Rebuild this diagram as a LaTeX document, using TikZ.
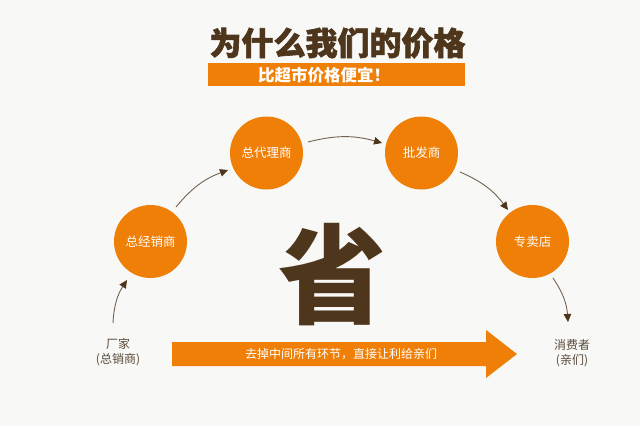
\documentclass[tikz,border=0pt]{standalone}
\usepackage{fontspec}
\setmainfont{Noto Sans CJK SC}
\newfontfamily\cjk{Noto Sans CJK SC}
\newfontfamily\cjkheavy{Noto Sans CJK SC}[FakeBold=2]
\usetikzlibrary{arrows.meta}
\definecolor{bg}{HTML}{F8F8F6}
\definecolor{org}{HTML}{EF7F06}
\definecolor{brn}{HTML}{4E361C}
\definecolor{lnc}{HTML}{74644F}
\definecolor{lbl}{HTML}{5A4A3A}
\begin{document}
\begin{tikzpicture}[x=1pt,y=-1pt,
  stage/.style={circle,fill=org,draw=none,minimum size=73pt,inner sep=0pt,text=white,font=\cjk\fontsize{12.5}{14}\selectfont},
  flow/.style={draw=lnc,line width=0.9pt,-{Triangle[length=8pt,width=7.5pt,fill=brn,color=brn]},bend left=15},
  endlbl/.style={text=lbl,font=\cjk\fontsize{12}{15}\selectfont,align=center,inner sep=0pt}]
\fill[bg] (0,0) rectangle (640,426);
\useasboundingbox (0,0) rectangle (640,426);
% title
\node[text=brn,font=\cjkheavy\bfseries\fontsize{32}{34}\selectfont,inner sep=0pt] (title) at (337.5,43) {为什么我们的价格};
\fill[org] (208,63) rectangle (465,86);
\node[anchor=west,text=white,font=\cjk\bfseries\fontsize{16.5}{18}\selectfont,inner sep=0pt] (sub) at (258,75) {比超市价格便宜！};
% stages
\node[stage] (a) at (150.5,241.5) {总经销商};
\node[stage] (b) at (266.5,153) {总代理商};
\node[stage] (c) at (421.5,153) {批发商};
\node[stage] (d) at (532.5,241.5) {专卖店};
% endpoints
\node[endlbl] (src) at (118,352) {厂家\\(总销商)};
\node[endlbl] (dst) at (572,353) {消费者\\(亲们)};
\coordinate (s1) at (113,323);
\coordinate (e1) at (127,280);
\coordinate (s2) at (176,207);
\coordinate (e2) at (228,170);
\coordinate (s3) at (308,142);
\coordinate (e3) at (382,143);
\coordinate (s4) at (460,172);
\coordinate (e4) at (508,210);
\coordinate (s5) at (553,278);
\coordinate (e5) at (568,322);
\draw[flow] (s1) to (e1);
\draw[flow] (s2) to (e2);
\draw[flow] (s3) to (e3);
\draw[flow] (s4) to (e4);
\draw[flow] (s5) to (e5);
% big character
\node[text=brn,font=\cjk\bfseries\fontsize{108}{108}\selectfont,inner sep=0pt] (sheng) at (332,275) {省};
% big arrow
\fill[org] (172,342) -- (486,342) -- (486,330) -- (517,354) -- (486,378) -- (486,366) -- (172,366) -- cycle;
\node[text=white,font=\cjk\fontsize{12}{14}\selectfont,inner sep=0pt] (msg) at (341,354) {去掉中间所有环节，直接让利给亲们};
\end{tikzpicture}
\end{document}
